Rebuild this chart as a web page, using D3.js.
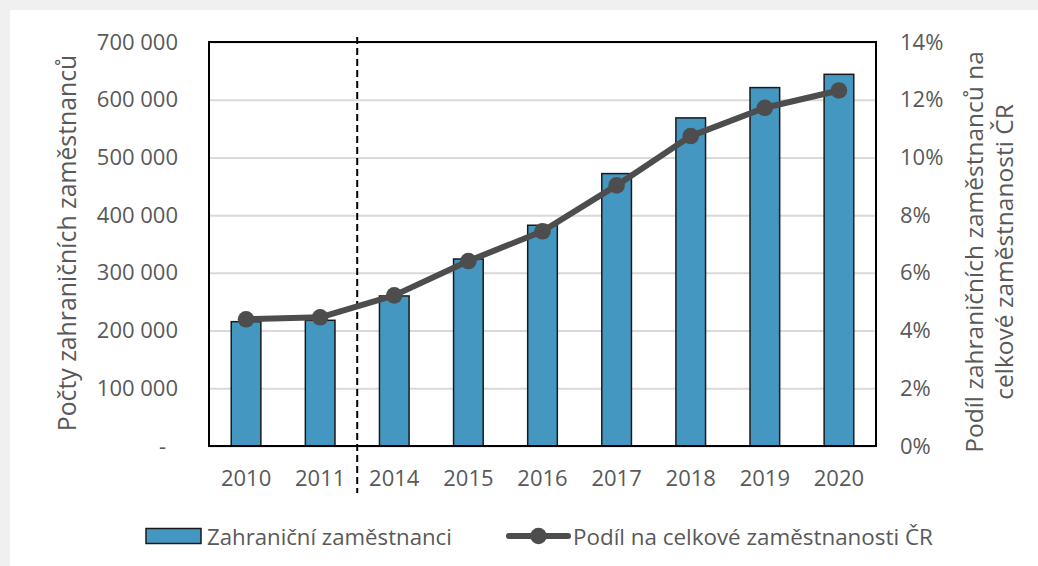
<!DOCTYPE html>
<html>
<head>
<meta charset="utf-8">
<script src="https://cdn.jsdelivr.net/npm/d3@7"></script>
<style>
  body { margin: 0; background: #f0f0f0; }
  text { font-family: "Open Sans", sans-serif; fill: #595959; }
</style>
</head>
<body>
<svg></svg>
<script>
// Data
const years = ["2010", "2011", "2014", "2015", "2016", "2017", "2018", "2019", "2020"];
const workers = [215400, 217800, 260000, 324000, 382500, 472000, 568500, 621000, 644000];
const share = [4.39, 4.46, 5.22, 6.41, 7.44, 9.03, 10.74, 11.72, 12.32];
const leftTicks = [0, 100000, 200000, 300000, 400000, 500000, 600000, 700000];
const rightTicks = [0, 2, 4, 6, 8, 10, 12, 14];
const gapAfter = "2011"; // years missing between 2011 and 2014

const width = 1038, height = 566;
const plot = { left: 209, right: 876, top: 42, bottom: 446 };
const barColor = "#4397c0", lineColor = "#4d4d4d";

const svg = d3.select("svg").attr("width", width).attr("height", height);

// white panel on gray page
svg.append("rect").attr("width", width).attr("height", height).attr("fill", "#f0f0f0");
svg.append("rect").attr("x", 10).attr("y", 10).attr("width", width - 10).attr("height", height - 10).attr("fill", "#fff");

const x = d3.scaleBand().domain(years).range([plot.left, plot.right]).paddingInner(0.6).paddingOuter(0.3);
const y = d3.scaleLinear().domain([0, 700000]).range([plot.bottom, plot.top]);
const y2 = d3.scaleLinear().domain([0, 14]).range([plot.bottom, plot.top]);

const czLocale = d3.formatLocale({ decimal: ",", thousands: " ", grouping: [3], currency: ["", " Kč"] });
const fmt = czLocale.format(",d");

// gridlines
svg.append("g")
    .attr("transform", `translate(${plot.left},0)`)
    .call(d3.axisLeft(y).tickValues(leftTicks).tickSize(-(plot.right - plot.left)).tickFormat(""))
    .call(g => g.select(".domain").remove())
    .call(g => g.selectAll("line").attr("stroke", "#d9d9d9").attr("stroke-width", 2));

// bars
svg.selectAll("rect.bar")
    .data(years)
    .enter().append("rect")
    .attr("class", "bar")
    .attr("x", d => x(d))
    .attr("width", x.bandwidth())
    .attr("y", (d, i) => y(workers[i]))
    .attr("height", (d, i) => plot.bottom - y(workers[i]))
    .attr("fill", barColor)
    .attr("stroke", "#1a1a1a")
    .attr("stroke-width", 1.5);

// plot frame
svg.append("rect")
    .attr("x", plot.left).attr("y", plot.top)
    .attr("width", plot.right - plot.left).attr("height", plot.bottom - plot.top)
    .attr("fill", "none").attr("stroke", "#000").attr("stroke-width", 2);

// dashed separator for the missing years
const sepX = x(gapAfter) + x.bandwidth() / 2 + x.step() / 2;
svg.append("line")
    .attr("x1", sepX).attr("x2", sepX)
    .attr("y1", 37).attr("y2", 493)
    .attr("stroke", "#000").attr("stroke-width", 2)
    .attr("stroke-dasharray", "7,4");

// share line + markers
const line = d3.line()
    .x((d, i) => x(years[i]) + x.bandwidth() / 2)
    .y(d => y2(d));

svg.append("path")
    .datum(share)
    .attr("d", line)
    .attr("fill", "none")
    .attr("stroke", lineColor)
    .attr("stroke-width", 6)
    .attr("stroke-linejoin", "round");

svg.selectAll("circle.pt")
    .data(share)
    .enter().append("circle")
    .attr("class", "pt")
    .attr("cx", (d, i) => x(years[i]) + x.bandwidth() / 2)
    .attr("cy", d => y2(d))
    .attr("r", 8.3)
    .attr("fill", lineColor);

// axes (labels only)
const tickFont = g => g.selectAll("text").attr("font-size", "22px").attr("fill", "#595959");

svg.append("g")
    .attr("transform", `translate(${plot.left},0)`)
    .call(d3.axisLeft(y).tickValues(leftTicks).tickSize(0).tickPadding(31)
        .tickFormat(d => d === 0 ? "-" : fmt(d)))
    .call(g => g.select(".domain").remove())
    .call(tickFont)
    .call(g => g.selectAll("text").filter(d => d === 0).attr("dx", -12));

svg.append("g")
    .attr("transform", `translate(${plot.right},0)`)
    .call(d3.axisRight(y2).tickValues(rightTicks).tickSize(0).tickPadding(24).tickFormat(d => d + "%"))
    .call(g => g.select(".domain").remove())
    .call(tickFont);

svg.append("g")
    .attr("transform", `translate(0,${plot.bottom})`)
    .call(d3.axisBottom(x).tickSize(0).tickPadding(24))
    .call(g => g.select(".domain").remove())
    .call(tickFont);

// axis titles
svg.append("text")
    .attr("transform", "translate(66,243) rotate(-90)")
    .attr("text-anchor", "middle")
    .attr("dominant-baseline", "central")
    .attr("font-size", "24.8px")
    .text("Počty zahraničních zaměstnanců");

const rightTitle = ["Podíl zahraničních zaměstnanců na", "celkové zaměstnanosti ČR"];
svg.selectAll("text.rtitle")
    .data(rightTitle)
    .enter().append("text")
    .attr("class", "rtitle")
    .attr("transform", (d, i) => `translate(${973 + i * 30},252) rotate(-90)`)
    .attr("text-anchor", "middle")
    .attr("dominant-baseline", "central")
    .attr("font-size", "24.5px")
    .text(d => d);

// legend
const legY = 536;
svg.append("rect")
    .attr("x", 146).attr("y", legY - 7.5).attr("width", 55).attr("height", 15)
    .attr("fill", barColor).attr("stroke", "#1a1a1a").attr("stroke-width", 1.5);
svg.append("text")
    .attr("x", 207).attr("y", legY)
    .attr("dominant-baseline", "central")
    .attr("font-size", "22.2px")
    .text("Zahraniční zaměstnanci");

svg.append("line")
    .attr("x1", 509).attr("x2", 568).attr("y1", legY).attr("y2", legY)
    .attr("stroke", lineColor).attr("stroke-width", 6).attr("stroke-linecap", "round");
svg.append("circle")
    .attr("cx", 538.5).attr("cy", legY).attr("r", 8.3).attr("fill", lineColor);
svg.append("text")
    .attr("x", 573).attr("y", legY)
    .attr("dominant-baseline", "central")
    .attr("font-size", "22.4px")
    .text("Podíl na celkové zaměstnanosti ČR");
</script>
</body>
</html>
